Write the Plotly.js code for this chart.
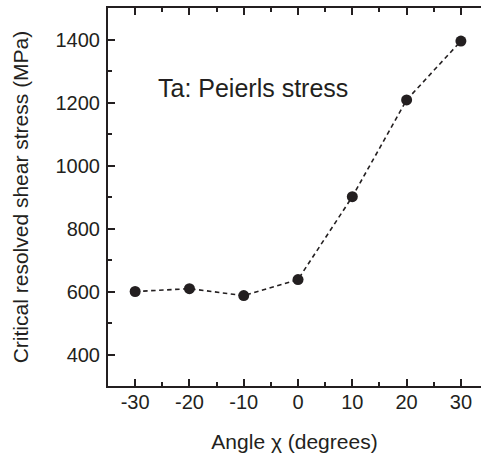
<!DOCTYPE html>
<html>
<head>
<meta charset="utf-8">
<script src="https://cdn.plot.ly/plotly-3.0.1.min.js"></script>
<style>
html, body { margin: 0; padding: 0; overflow: hidden; background: #fff; }
#chart { width: 481px; height: 455px; }
</style>
</head>
<body>
<div id="chart"></div>
<script>
const angles = [-30, -20, -10, 0, 10, 20, 30];
const stress = [600, 609, 587, 638, 901, 1208, 1395];
const xTicks = [-30, -20, -10, 0, 10, 20, 30];
const yTicks = [400, 600, 800, 1000, 1200, 1400];

const ink = '#231f20';
const font = 'Liberation Sans, Arial, Helvetica, sans-serif';

const trace = {
  x: angles,
  y: stress,
  type: 'scatter',
  mode: 'lines+markers',
  line: { color: ink, width: 1.6, dash: '4.5px,3.5px' },
  marker: { color: ink, size: 11 },
  hoverinfo: 'skip',
  showlegend: false
};

// same points on the top (mirror) axis, invisible, so the top axis carries its ticks
const topTrace = {
  x: angles,
  y: stress,
  xaxis: 'x2',
  type: 'scatter',
  mode: 'markers',
  marker: { color: ink, size: 1, opacity: 0 },
  hoverinfo: 'skip',
  showlegend: false
};

const layout = {
  width: 481,
  height: 455,
  margin: { l: 108, r: 0, t: 8, b: 69 },
  paper_bgcolor: '#fff',
  plot_bgcolor: '#fff',
  showlegend: false,
  xaxis: {
    range: [-35, 33.7],
    showline: true,
    linecolor: ink,
    linewidth: 2,
    mirror: true,
    ticks: 'inside',
    ticklen: 7,
    tickwidth: 2,
    tickcolor: ink,
    showgrid: false,
    zeroline: false,
    tickmode: 'array',
    tickvals: xTicks,
    ticktext: xTicks.map(String),
    minor: { dtick: 5, tick0: -35, ticks: 'inside', ticklen: 4, tickwidth: 2, tickcolor: ink, showgrid: false },
    ticklabelstandoff: -3,
    tickfont: { family: font, size: 20, color: ink },
    title: { text: 'Angle χ (degrees)', font: { family: font, size: 21, color: ink }, standoff: 22 }
  },
  xaxis2: {
    overlaying: 'x',
    matches: 'x',
    anchor: 'y',
    side: 'top',
    range: [-35, 33.7],
    showline: false,
    ticks: 'inside',
    ticklen: 7,
    tickwidth: 2,
    tickcolor: ink,
    showgrid: false,
    zeroline: false,
    showticklabels: false,
    tickmode: 'array',
    tickvals: xTicks,
    minor: { dtick: 5, tick0: -35, ticks: 'inside', ticklen: 4, tickwidth: 2, tickcolor: ink, showgrid: false }
  },
  yaxis: {
    range: [300, 1500],
    showline: true,
    linecolor: ink,
    linewidth: 2,
    mirror: false,
    ticks: 'inside',
    ticklen: 7,
    tickwidth: 2,
    tickcolor: ink,
    showgrid: false,
    zeroline: false,
    tickmode: 'array',
    tickvals: yTicks,
    ticktext: yTicks.map(String),
    minor: { dtick: 100, tick0: 300, ticks: 'inside', ticklen: 4, tickwidth: 2, tickcolor: ink, showgrid: false },
    ticklabelstandoff: 2,
    tickfont: { family: font, size: 20, color: ink },
    title: { text: 'Critical resolved shear stress (MPa)', font: { family: font, size: 21, color: ink }, standoff: 21 }
  },
  annotations: [{
    text: 'Ta: Peierls stress',
    xref: 'x', yref: 'paper',
    x: -26.25, y: 0.788,
    xanchor: 'left', yanchor: 'middle',
    showarrow: false,
    font: { family: font, size: 25, color: ink }
  }]
};

Plotly.newPlot('chart', [trace, topTrace], layout, { displayModeBar: false });
</script>
</body>
</html>
